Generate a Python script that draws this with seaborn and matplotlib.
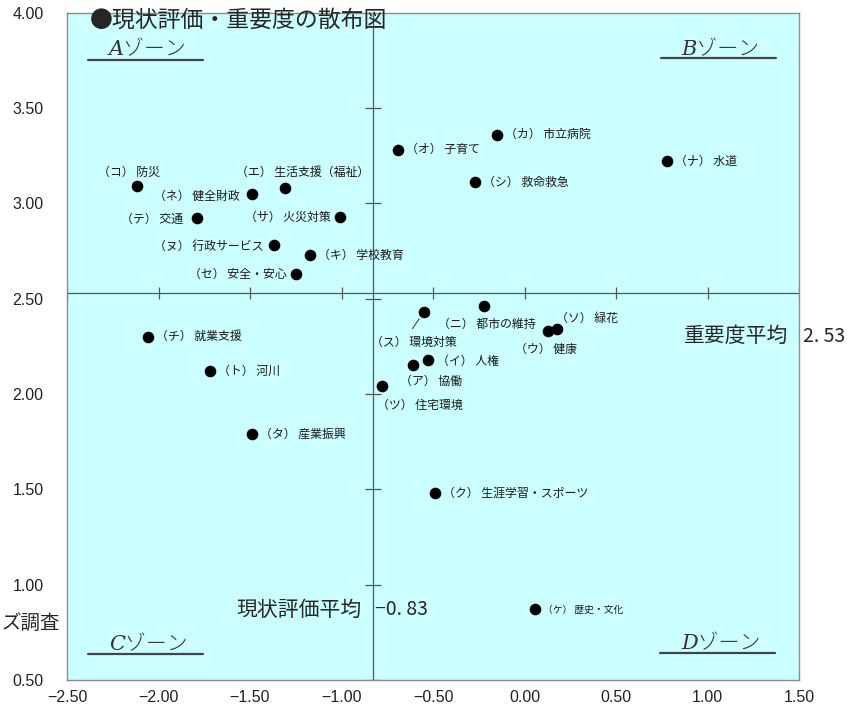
"""
現状評価・重要度の散布図 - recreated with seaborn
"""
import matplotlib
matplotlib.use('Agg')
import matplotlib.pyplot as plt
import seaborn as sns
import pandas as pd

# Data (x: 現状評価, y: 重要度)
items = ['（コ）防災', '（ネ）健全財政', '（エ）生活支援（福祉）', '（テ）交通',
         '（サ）火災対策', '（ヌ）行政サービス', '（キ）学校教育', '（セ）安全・安心',
         '（オ）子育て', '（カ）市立病院', '（ナ）水道', '（シ）救命救急',
         '（チ）就業支援', '（ト）河川', '（タ）産業振興', '（ス）環境対策',
         '（ニ）都市の維持', '（ソ）緑花', '（ウ）健康', '（イ）人権',
         '（ア）協働', '（ツ）住宅環境', '（ク）生涯学習・スポーツ', '（ケ）歴史・文化']
genjo = [-2.12, -1.49, -1.31, -1.79,
         -1.01, -1.37, -1.17, -1.25,
         -0.69, -0.15, 0.78, -0.27,
         -2.06, -1.72, -1.49, -0.55,
         -0.22, 0.18, 0.13, -0.53,
         -0.61, -0.78, -0.49, 0.06]
juyo = [3.09, 3.05, 3.08, 2.92,
        2.93, 2.78, 2.73, 2.63,
        3.28, 3.36, 3.22, 3.11,
        2.30, 2.12, 1.79, 2.43,
        2.46, 2.34, 2.33, 2.18,
        2.15, 2.04, 1.48, 0.87]

MEAN_X = -0.83   # 現状評価平均
MEAN_Y = 2.53    # 重要度平均

XTICKS = [-2.5, -2.0, -1.5, -1.0, -0.5, 0.0, 0.5, 1.0, 1.5]
XTICK_LABELS = ['−2.50', '−2.00', '−1.50', '−1.00', '−0.50', '0.00', '0.50', '1.00', '1.50']
YTICKS = [0.5, 1.0, 1.5, 2.0, 2.5, 3.0, 3.5, 4.0]
YTICK_LABELS = ['0.50', '1.00', '1.50', '2.00', '2.50', '3.00', '3.50', '4.00']

ZONES = ['Aゾーン', 'Bゾーン', 'Cゾーン', 'Dゾーン']

# label placement: offset in pixels from the dot, and alignment
LABEL_POS = {
    '（コ）防災': (-8, 14, 'center'),
    '（ネ）健全財政': (-12, -3, 'right'),
    '（エ）生活支援（福祉）': (18, 16, 'center'),
    '（テ）交通': (-14, -1, 'right'),
    '（サ）火災対策': (-9, -1, 'right'),
    '（ヌ）行政サービス': (-10, -1, 'right'),
    '（キ）学校教育': (8, -1, 'left'),
    '（セ）安全・安心': (-9, -1, 'right'),
    '（ス）環境対策': (-10, -30, 'center'),
    '（ニ）都市の維持': (3, -18, 'center'),
    '（ソ）緑花': (30, 11, 'center'),
    '（ウ）健康': (-2, -18, 'center'),
    '（イ）人権': (9, -2, 'left'),
    '（ア）協働': (18, -16, 'center'),
    '（ツ）住宅環境': (38, -19, 'center'),
}

sns.set_theme(style='white')
plt.rcParams['font.family'] = ['Noto Sans CJK JP', 'DejaVu Sans']

df = pd.DataFrame({'item': items, 'genjo': genjo, 'juyo': juyo})

fig = plt.figure(figsize=(8.61, 7.15), dpi=100)
ax = fig.add_axes([67 / 861, 35 / 715, 732 / 861, 667.5 / 715])
ax.set_facecolor('#ccffff')

# mean lines with small tick marks
ax.axvline(MEAN_X, color='#555555', lw=0.9, zorder=2)
ax.axhline(MEAN_Y, color='#555555', lw=0.9, zorder=2)
ax.plot(XTICKS, [MEAN_Y] * len(XTICKS), ls='none', marker='|', ms=9,
        mew=0.9, color='#555555', zorder=2)
ax.plot([MEAN_X] * len(YTICKS), YTICKS, ls='none', marker='_', ms=11,
        mew=0.9, color='#555555', zorder=2)

# points
sns.scatterplot(data=df, x='genjo', y='juyo', color='black', s=70,
                linewidth=0, ax=ax, zorder=5, legend=False)

# point labels (a small gap after the bracketed code, like the original)
for name, gx, gy in zip(items, genjo, juyo):
    dx, dy, ha = LABEL_POS.get(name, (8, 0, 'left'))
    fs = 7 if name == '（ケ）歴史・文化' else 8.6
    txt = name.replace('）', '） ', 1)
    if name == '（ス）環境対策':
        ax.annotate(txt, xy=(gx, gy), xytext=(dx, dy), textcoords='offset pixels',
                    ha=ha, va='center', fontsize=fs, color='#1a1a1a',
                    arrowprops=dict(arrowstyle='-', color='#333333', lw=0.7,
                                    relpos=(0.43, 1.0), shrinkA=3, shrinkB=6))
    else:
        ax.annotate(txt, xy=(gx, gy), xytext=(dx, dy), textcoords='offset pixels',
                    ha=ha, va='center', fontsize=fs, color='#1a1a1a')

# axes limits / ticks
ax.set_xlim(-2.5, 1.5)
ax.set_ylim(0.5, 4.0)
ax.set_xticks(XTICKS)
ax.set_xticklabels(XTICK_LABELS, fontfamily='Liberation Sans', fontsize=11.5)
ax.set_yticks(YTICKS)
ax.set_yticklabels(YTICK_LABELS, fontfamily='Liberation Sans', fontsize=11.5)
ax.tick_params(axis='x', length=0, pad=7, colors='#222222')
ax.tick_params(axis='y', length=0, pad=17, colors='#222222')
ax.set_xlabel('')
ax.set_ylabel('')
for sp in ax.spines.values():
    sp.set_color('#8c8c8c')
    sp.set_linewidth(1.0)

# zone labels with underline
zone_xy = [(0.110, 0.944), (0.893, 0.944), (0.112, 0.053), (0.893, 0.055)]
line_xy = [(0.029, 0.186, 0.929), (0.811, 0.969, 0.932),
           (0.029, 0.186, 0.039), (0.810, 0.967, 0.040)]
for z, (tx, ty), (x0, x1, ly) in zip(ZONES, zone_xy, line_xy):
    ax.text(tx, ty, z, transform=ax.transAxes, ha='center', va='center',
            fontsize=15, style='italic', fontweight='light', color='#333333',
            family=['DejaVu Serif', 'Noto Sans CJK JP'])
    ax.plot([x0, x1], [ly, ly], transform=ax.transAxes, color='#444444', lw=1.6)

# mean value texts
mean_y_txt = f'{MEAN_Y:.2f}'.replace('.', '. ')
mean_x_txt = f'{MEAN_X:.2f}'.replace('-', '−').replace('.', '. ')
ax.text(0.985, 0.515, '重要度平均', transform=ax.transAxes, ha='right',
        va='center', fontsize=15)
ax.text(1.006, 0.515, mean_y_txt, transform=ax.transAxes, ha='left',
        va='center', fontsize=14, clip_on=False)
ax.text(0.403, 0.105, '現状評価平均', transform=ax.transAxes, ha='right',
        va='center', fontsize=15)
ax.text(0.421, 0.105, mean_x_txt, transform=ax.transAxes, ha='left',
        va='center', fontsize=14)

# title and the caption fragment at the left edge
fig.text(90 / 861, 1 - 20 / 715, '●現状評価・重要度の散布図', fontsize=16.5,
         ha='left', va='center')
fig.text(1 / 861, 1 - 623 / 715, 'ズ調査', fontsize=14, ha='left', va='center')

plt.savefig('out.png', dpi=100)
print("Saved out.png")
